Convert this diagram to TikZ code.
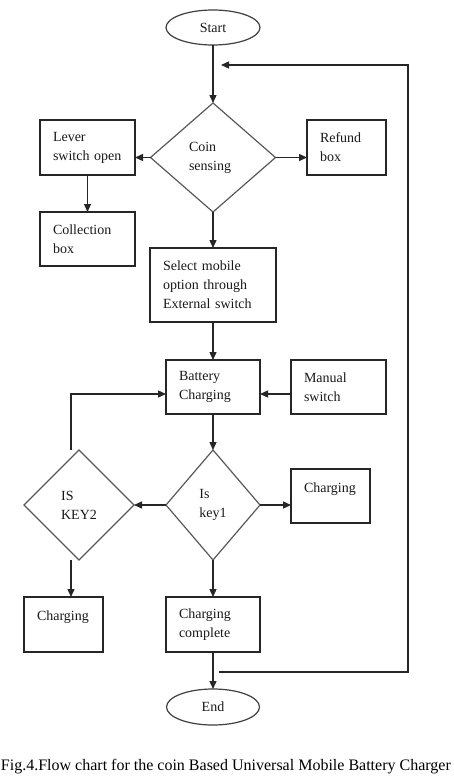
\documentclass[tikz,border=0pt]{standalone}
\usepackage{fontspec}
\setmainfont{Liberation Serif}
\usetikzlibrary{shapes.geometric,arrows.meta}
\begin{document}
\begin{tikzpicture}[x=1pt,y=-1pt,
  every node/.style={font=\fontsize{14}{19}\selectfont, outer sep=0pt, text=black!90},
  box/.style={draw=black!85, line width=1.3pt, rectangle, inner xsep=13pt, inner ysep=0pt, align=left},
  dia/.style={draw=black!65, line width=1.2pt, diamond, inner sep=0pt, align=left},
  term/.style={draw=black!75, line width=1.2pt, ellipse, inner sep=0pt},
  arr/.style={draw=black!85, line width=1.3pt, -{Triangle[length=8pt,width=7pt]}},
  ln/.style={draw=black!65, line width=1.2pt}
]
\path[use as bounding box, fill=white] (0,0) rectangle (453,782);

% terminals
\node[term, minimum width=94pt, minimum height=35pt] (st) at (213,27.5) {Start};
\node[term, minimum width=93pt, minimum height=36pt] (en) at (213,707) {End};

% decisions
\node[dia, minimum width=125pt, minimum height=109pt] (cs) at (213,157.5) {\hspace*{-6pt}Coin\\\hspace*{-6pt}sensing};
\node[dia, minimum width=94pt, minimum height=110pt] (k1) at (213,505) {Is\\key1};
\node[dia, minimum width=110pt, minimum height=110pt] (k2) at (79,505) {IS\\KEY2};

% process boxes
\node[box, text width=69pt, minimum height=55pt] (lev) at (87.5,147.5) {Lever\\switch open};
\node[box, text width=53pt, minimum height=55pt] (ref) at (346.5,147.5) {Refund\\box};
\node[box, text width=69pt, minimum height=54pt] (col) at (87.5,239) {Collection\\box};
\node[box, text width=100pt, minimum height=74pt] (sel) at (213,285) {Select mobile\\option through\\External switch};
\node[box, text width=68pt, minimum height=54pt] (bat) at (213,387) {Battery\\Charging};
\node[box, text width=69pt, minimum height=54pt] (man) at (338.5,387) {Manual\\switch};
\node[box, text width=53pt, minimum height=54pt] (ch1) at (330.5,496) {\raisebox{7pt}[\height][\depth]{Charging}};
\node[box, text width=53pt, minimum height=55pt] (ch2) at (63.5,624.5) {\raisebox{7pt}[\height][\depth]{Charging}};
\node[box, text width=68pt, minimum height=55pt] (cc) at (213,624.5) {Charging\\complete};

% caption
\node[anchor=base west, inner sep=0pt, font=\fontsize{16}{19}\selectfont, text=black] (cap) at (1,770)
  {Fig.4.Flow chart for the coin Based Universal Mobile Battery Charger};

% connectors
\draw[arr] (st.south) -- (cs.north);
\draw[arr] (cs.west) -- (cs.west -| lev.east);
\draw[arr] (cs.east) -- (cs.east -| ref.west);
\draw[arr] (lev.south) -- (col.north);
\draw[arr] (cs.south) -- (sel.north);
\draw[arr] (sel.south) -- (bat.north);
\draw[arr] ([yshift=-7pt]man.west) -- ([yshift=-7pt]bat.east);
\draw[arr] ([xshift=-8pt]k2.north) |- ([yshift=-7pt]bat.west);
\draw[arr] (bat.south) -- (k1.north);
\draw[arr] (k1.west) -- (k2.east);
\draw[arr] (k1.east) -- (k1.east -| ch1.west);
\draw[arr] ([xshift=-8pt]k2.south) -- ([xshift=-8pt]k2.south |- ch2.north);
\draw[arr] (k1.south) -- (cc.north);
\draw[arr] (cc.south) -- (en.north);

% loop back
\coordinate (lb) at (219,672);
\coordinate (lt) at (221,65);
\coordinate (rr) at (408,672);
\draw[arr] (lb) -- (rr) -- (rr |- lt) -- (lt);
\end{tikzpicture}
\end{document}
